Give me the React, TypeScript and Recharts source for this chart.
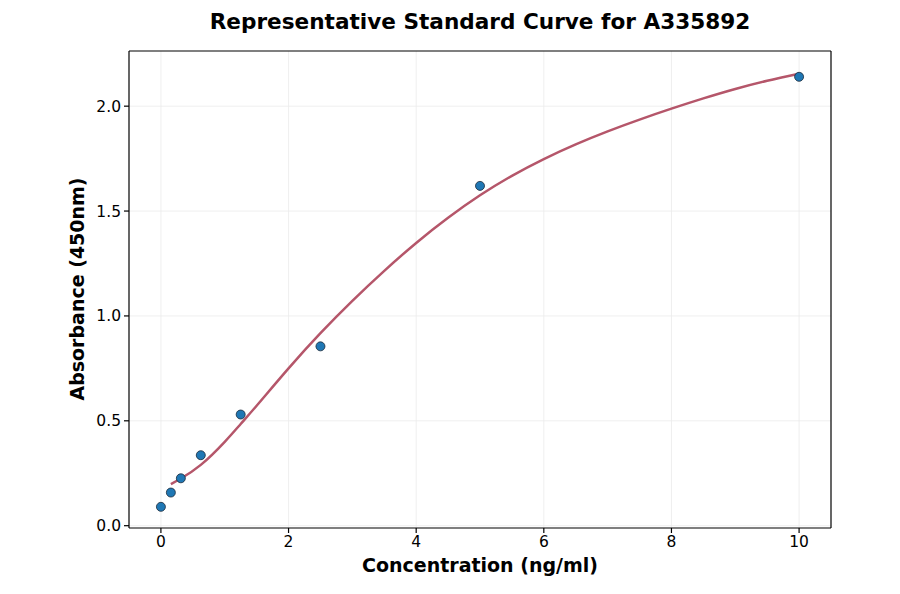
import { ComposedChart, Line, Scatter, XAxis, YAxis, CartesianGrid } from "recharts";

const standardConc = [0, 0.156, 0.3125, 0.625, 1.25, 2.5, 5, 10];
const standardOD = [0.09, 0.158, 0.226, 0.336, 0.53, 0.855, 1.62, 2.14];

const fitConc = [0.156, 0.3125, 0.625, 1, 1.25, 1.5, 2, 2.5, 3, 3.5, 4, 4.5, 5, 5.5, 6, 6.5, 7, 7.5, 8, 8.5, 9, 9.5, 10];
const fitOD = [0.198, 0.225, 0.29, 0.4, 0.485, 0.572, 0.75, 0.918, 1.072, 1.215, 1.348, 1.468, 1.575, 1.668, 1.748, 1.818, 1.88, 1.936, 1.988, 2.037, 2.082, 2.121, 2.155];

const xTicks = [0, 2, 4, 6, 8, 10];
const yTicks = [0, 0.5, 1, 1.5, 2];

const FONT = "'DejaVu Sans', sans-serif";

const points = standardConc.map((x, i) => ({ x, y: standardOD[i] }));
const curve = fitConc.map((x, i) => ({ x, y: fitOD[i] }));

const tickStyle = { fill: "#000", fontSize: 15.5, fontFamily: FONT };

export default function App() {
  return (
    <div style={{ position: "relative", width: 900, height: 594, background: "#fff" }}>
      <style>{`body{margin:0}`}</style>
      <ComposedChart width={900} height={594} margin={{ top: 41, right: 59, bottom: 36, left: 69 }}>
        <CartesianGrid stroke="#ebebeb" strokeWidth={0.8} horizontalValues={yTicks} verticalValues={xTicks} />
        <XAxis
          type="number"
          dataKey="x"
          domain={[-0.5, 10.5]}
          ticks={xTicks}
          height={30}
          tick={tickStyle}
          tickSize={5}
          tickMargin={3}
          stroke="#000"
          strokeWidth={1.2}
          allowDataOverflow
        />
        <XAxis xAxisId="top" orientation="top" type="number" domain={[-0.5, 10.5]} height={10} tick={false} tickLine={false} stroke="#000" strokeWidth={1.2} />
        <YAxis
          type="number"
          dataKey="y"
          domain={[-0.011, 2.263]}
          ticks={yTicks}
          width={60}
          tick={tickStyle}
          tickSize={5}
          tickMargin={3}
          tickFormatter={(v: number) => v.toFixed(1)}
          stroke="#000"
          strokeWidth={1.2}
          allowDataOverflow
        />
        <YAxis yAxisId="right" orientation="right" type="number" domain={[-0.011, 2.263]} width={10} tick={false} tickLine={false} stroke="#000" strokeWidth={1.2} />
        <Line
          data={curve}
          dataKey="y"
          type="natural"
          stroke="#b5566a"
          strokeWidth={2.5}
          dot={false}
          activeDot={false}
          isAnimationActive={false}
        />
        <Scatter
          data={points}
          dataKey="y"
          fill="#1f77b4"
          shape={(p: any) => <circle cx={p.cx} cy={p.cy} r={4.5} fill="#1f77b4" stroke="#1a2a3a" strokeWidth={0.8} />}
          isAnimationActive={false}
        />
      </ComposedChart>
      <div style={{ position: "absolute", left: 129, width: 702, top: 9, textAlign: "center", fontFamily: FONT, fontWeight: "bold", fontSize: 21.6 }}>
        Representative Standard Curve for A335892
      </div>
      <div style={{ position: "absolute", left: 129, width: 702, top: 554, textAlign: "center", fontFamily: FONT, fontWeight: "bold", fontSize: 19 }}>
        Concentration (ng/ml)
      </div>
      <div
        style={{
          position: "absolute",
          left: 77,
          top: 289,
          transform: "translate(-50%, -50%) rotate(-90deg)",
          whiteSpace: "nowrap",
          fontFamily: FONT,
          fontWeight: "bold",
          fontSize: 19,
        }}
      >
        Absorbance (450nm)
      </div>
    </div>
  );
}
